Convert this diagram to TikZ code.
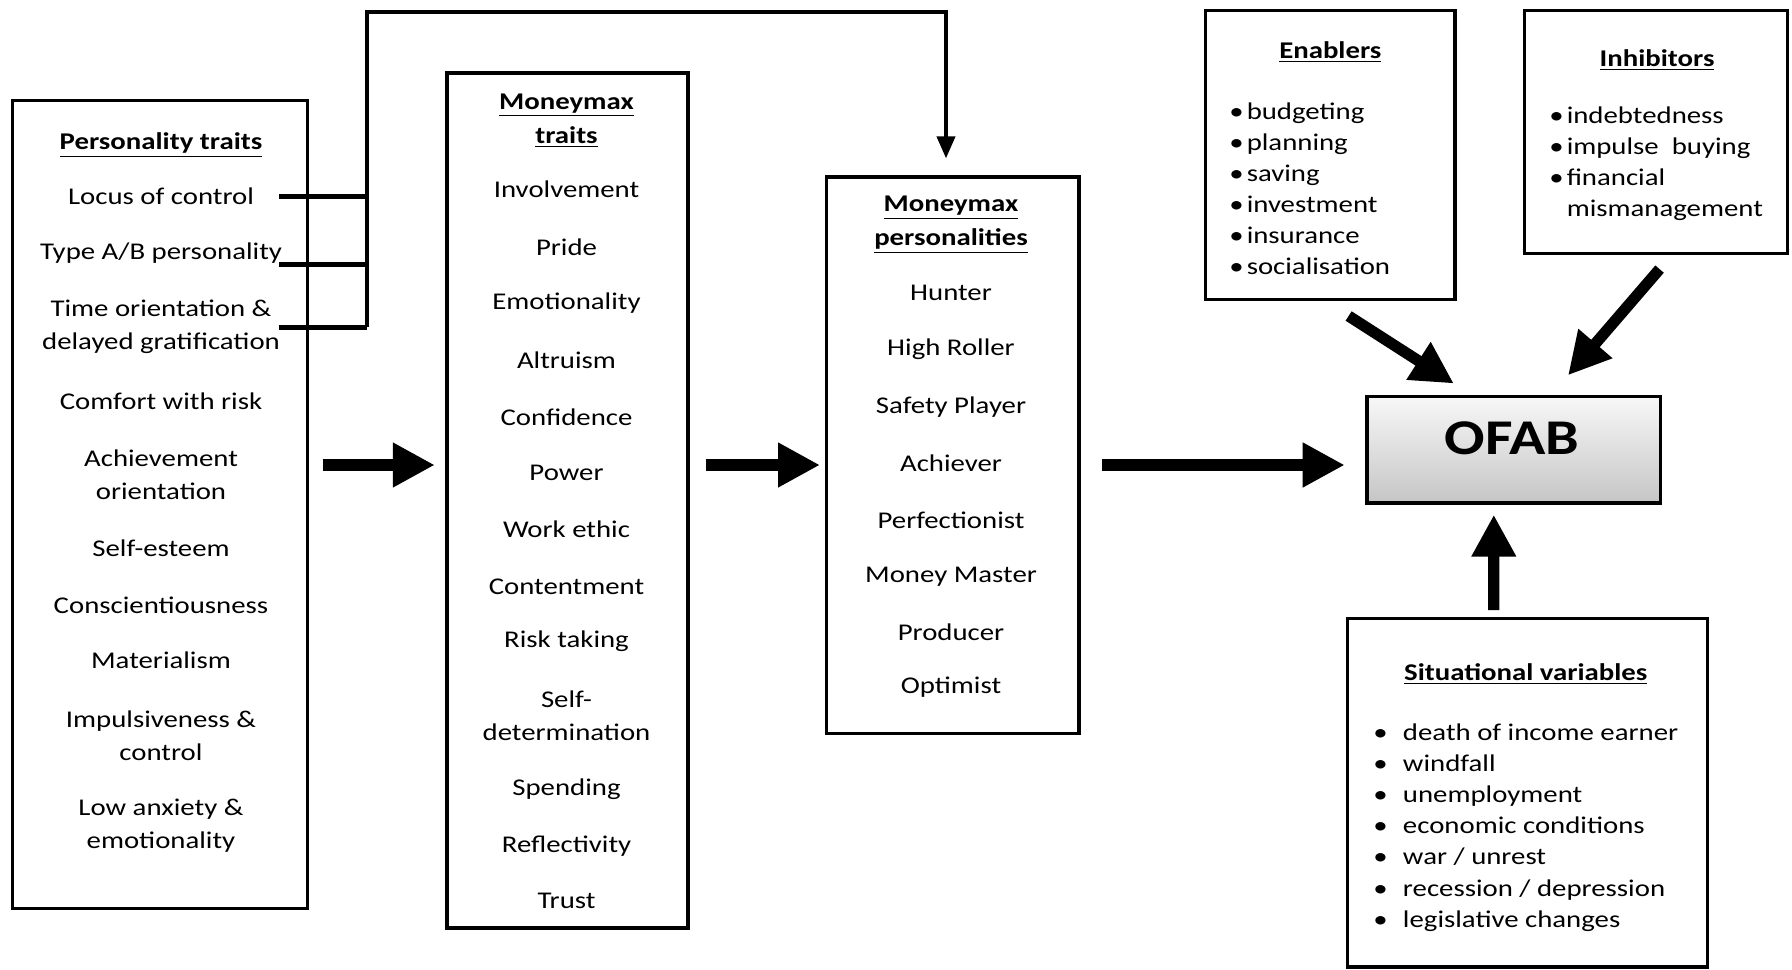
\documentclass[tikz,border=0pt]{standalone}
\usepackage{fontspec}
\setmainfont{Carlito}[FakeStretch=1.2]
\usetikzlibrary{arrows.meta,fit,calc}
\tikzset{
  box/.style={draw, line width=1.7pt, inner sep=0pt},
  item/.style={font=\fontsize{12}{16.5}\selectfont, align=center, inner sep=0pt},
  ttl/.style={font=\bfseries\fontsize{12}{17}\selectfont, align=center, inner sep=0pt},
  lst/.style={font=\fontsize{12}{15.5}\selectfont, align=left, inner sep=0pt, anchor=west},
  bigarrow/.style={line width=5.6pt, -{Triangle[width=21pt,length=21pt]}},
  stub/.style={line width=2.5pt},
  link/.style={line width=2pt, line join=miter},
}
\begin{document}
\begin{tikzpicture}[x=0.5pt,y=-0.5pt]
\useasboundingbox (0,0) rectangle (1792,969);
\fill[white] (0,0) rectangle (1792,969);

% boxes
\node[box, fit={(12.6,100.6) (307.4,908.6)}] (pt) {};
\node[box, fit={(446.9,73.1) (688,928)}] (mt) {};
\node[box, fit={(826.3,177.1) (1079,733.7)}] (mp) {};
\node[box, fit={(1205.7,10.3) (1454.9,299.4)}] (en) {};
\node[box, fit={(1524.6,10.3) (1787.5,253.7)}] (ib) {};
\node[box, fit={(1367,396.6) (1660.6,502.9)}, top color=gray!6, bottom color=gray!45] (of) {};
\node[box, fit={(1347.5,618.3) (1707.5,967)}] (sv) {};

% titles
\node[ttl] (ptt) at (161,145) {\underline{Personality traits}};
\node[ttl] (mtt) at (566.5,120.6) {\underline{Moneymax}\\\underline{traits}};
\node[ttl] (mpt) at (951,225) {\underline{Moneymax}\\\underline{personalities}};
\node[ttl] (ent) at (1330.3,52) {\underline{Enablers}};
\node[ttl] (ibt) at (1657,60) {\underline{Inhibitors}};
\node[ttl] (svt) at (1525.7,674) {\underline{Situational variables}};
\node[font=\bfseries\fontsize{25}{25}\selectfont, inner sep=0pt] (oft) at (1512,438) {OFAB};

% personality traits items
\foreach \y/\t [count=\i] in {196.6/{Locus of control}, 252.6/{Type A/B personality},
  326.9/{Time orientation \&\\delayed gratification}, 401.2/{Comfort with risk},
  474.9/{Achievement\\orientation}, 548.6/{Self-esteem}, 605.7/{Conscientiousness},
  660.6/{Materialism}, 735.5/{Impulsiveness \&\\control}, 825.2/{Low anxiety \&\\emotionality}}
  \node[item] (pti\i) at (161,\y) {\t};

% moneymax traits items
\foreach \y/\t [count=\i] in {189.7/Involvement, 246.9/Pride, 302.9/Emotionality,
  360/Altruism, 417.2/Confidence, 473.2/Power, 529.2/Work ethic, 586.3/Contentment,
  641.2/Risk taking, 716/{Self-\\determination}, 789.7/Spending, 845.7/Reflectivity, 900.6/Trust}
  \node[item] (mti\i) at (566.5,\y) {\t};

% moneymax personalities items
\foreach \y/\t [count=\i] in {292.6/Hunter, 349.7/High Roller, 406.9/Safety Player,
  462.9/Achiever, 520/Perfectionist, 577.2/Money Master, 632/Producer, 686.9/Optimist}
  \node[item] (mpi\i) at (951,\y) {\t};

% lists
\node[lst] (enl) at (1229,188.5) {•\hspace{1.5pt}budgeting\\•\hspace{1.5pt}planning\\•\hspace{1.5pt}saving\\•\hspace{1.5pt}investment\\•\hspace{1.5pt}insurance\\•\hspace{1.5pt}socialisation};
\node[lst] (ibl) at (1549,164) {•\hspace{1.5pt}indebtedness\\•\hspace{1.5pt}impulse\ \ buying\\•\hspace{1.5pt}financial\\\phantom{•}\hspace{1.5pt}mismanagement};
\node[lst, font=\fontsize{12}{15.6}\selectfont] (svl) at (1373,827.5) {\makebox[14.8pt][l]{•}death of income earner\\\makebox[14.8pt][l]{•}windfall\\\makebox[14.8pt][l]{•}unemployment\\\makebox[14.8pt][l]{•}economic conditions\\\makebox[14.8pt][l]{•}war / unrest\\\makebox[14.8pt][l]{•}recession / depression\\\makebox[14.8pt][l]{•}legislative changes};

% bracket connector
\coordinate (s1) at (279,196.6);
\coordinate (s2) at (279,264);
\coordinate (s3) at (279,327);
\coordinate (vx) at (367,0);
\coordinate (tr) at (946,12);
\draw[stub] (s1) -- (s1 -| vx);
\draw[stub] (s2) -- (s2 -| vx);
\draw[stub] (s3) -- (s3 -| vx);
\draw[link, -{Triangle[width=9pt,length=11pt]}, shorten >=8.5pt] (s3 -| vx) -- (vx |- tr) -- (tr) -- (tr |- mp.north);

% main arrows
\coordinate (ar) at (0,465);
\draw[bigarrow, shorten <=6.8pt, shorten >=5.2pt] (pt.east |- ar) -- (mt.west |- ar);
\draw[bigarrow, shorten <=8pt, shorten >=2.3pt] (mt.east |- ar) -- (mp.west |- ar);
\draw[bigarrow, shorten <=10.8pt, shorten >=10.3pt] (mp.east |- ar) -- (of.west |- ar);
\draw[bigarrow] ([shift={(18.3,14.9)}]en.south) -- ([shift={(-60,-11.4)}]of.north);
\draw[bigarrow] ([shift={(3.5,13.7)}]ib.south) -- ([shift={(54.2,-19.6)}]of.north);
\draw[bigarrow] ([shift={(-33.7,-6.6)}]sv.north) -- ([shift={(-20,10.1)}]of.south);
\end{tikzpicture}
\end{document}
